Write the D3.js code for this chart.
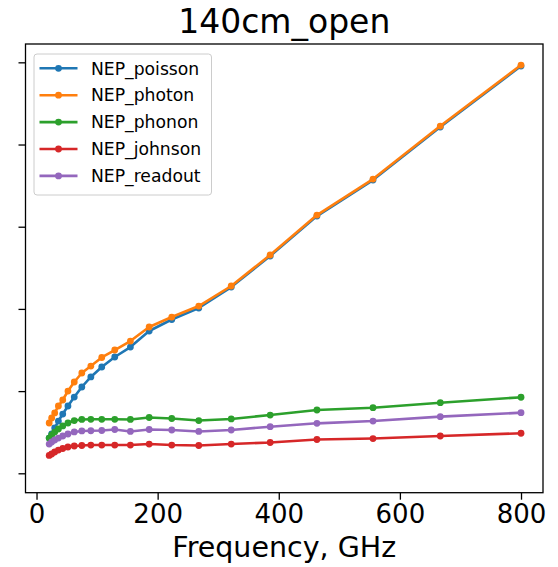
<!DOCTYPE html>
<html>
<head>
<meta charset="utf-8">
<script src="https://cdn.jsdelivr.net/npm/d3@7"></script>
<style>
  html, body { margin: 0; padding: 0; background: #fff; }
  svg { display: block; font-family: "DejaVu Sans", sans-serif; }
</style>
</head>
<body>
<svg id="chart" width="558" height="567"></svg>
<script>
// ---- data (frequency in GHz, NEP in arbitrary units; y tick labels not shown in the original) ----
const freqs = [20.9, 25.0, 30.0, 36.1, 43.3, 51.9, 62.3, 74.8, 89.7, 107.7, 129.2, 155.0, 186.0, 223.3, 267.9, 321.5, 385.8, 463.0, 555.6, 666.7, 800.0];
const nepPoisson = [0.429, 0.478, 0.551, 0.636, 0.721, 0.819, 0.928, 1.050, 1.172, 1.293, 1.415, 1.536, 1.731, 1.871, 2.011, 2.266, 2.644, 3.130, 3.568, 4.213, 4.955];
const nepPhoton  = [0.612, 0.673, 0.734, 0.819, 0.892, 1.001, 1.111, 1.220, 1.305, 1.409, 1.500, 1.609, 1.780, 1.901, 2.035, 2.279, 2.656, 3.142, 3.580, 4.225, 4.967];
const nepPhonon  = [0.429, 0.466, 0.502, 0.539, 0.576, 0.612, 0.642, 0.655, 0.657, 0.657, 0.657, 0.655, 0.679, 0.667, 0.642, 0.661, 0.709, 0.770, 0.798, 0.859, 0.925];
const nepJohnson = [0.217, 0.235, 0.259, 0.283, 0.302, 0.320, 0.332, 0.338, 0.344, 0.344, 0.344, 0.344, 0.356, 0.344, 0.338, 0.356, 0.375, 0.411, 0.423, 0.454, 0.487];
const nepReadout = [0.356, 0.381, 0.405, 0.429, 0.454, 0.478, 0.503, 0.515, 0.518, 0.521, 0.533, 0.509, 0.533, 0.527, 0.509, 0.527, 0.567, 0.608, 0.636, 0.689, 0.737];
const seriesNames = ["NEP_poisson", "NEP_photon", "NEP_phonon", "NEP_johnson", "NEP_readout"];
const xTicks = [0, 200, 400, 600, 800];
const yTicks = [0, 1, 2, 3, 4, 5];
const chartTitle = "140cm_open";
const xLabel = "Frequency, GHz";

const colors = ["#1f77b4", "#ff7f0e", "#2ca02c", "#d62728", "#9467bd"];
const seriesValues = [nepPoisson, nepPhoton, nepPhonon, nepJohnson, nepReadout];

// ---- layout ----
const pLeft = 25.5, pRight = 543, pTop = 44, pBottom = 492.7;
const svg = d3.select("#chart");

const x = d3.scaleLinear().domain([-18.2, 836.3]).range([pLeft, pRight]);
const y = d3.scaleLinear().domain([-0.236, 5.223]).range([pBottom, pTop]);

// title
svg.append("text")
  .attr("x", (pLeft + pRight) / 2).attr("y", 33)
  .attr("text-anchor", "middle")
  .attr("font-size", 33).attr("fill", "#000")
  .text(chartTitle);

// plot area clip
svg.append("defs").append("clipPath").attr("id", "clip")
  .append("rect").attr("x", pLeft).attr("y", pTop).attr("width", pRight - pLeft).attr("height", pBottom - pTop);

const plot = svg.append("g").attr("clip-path", "url(#clip)");

const line = d3.line().x(d => x(d[0])).y(d => y(d[1]));

seriesValues.forEach((vals, i) => {
  const pts = freqs.map((f, j) => [f, vals[j]]);
  const g = plot.append("g");
  g.append("path").datum(pts)
    .attr("d", line)
    .attr("fill", "none")
    .attr("stroke", colors[i])
    .attr("stroke-width", 2.6)
    .attr("stroke-linejoin", "round")
    .attr("stroke-linecap", "square");
  g.selectAll("circle").data(pts).enter().append("circle")
    .attr("cx", d => x(d[0])).attr("cy", d => y(d[1]))
    .attr("r", 3.4)
    .attr("fill", colors[i]);
});

// axes
const xAxis = d3.axisBottom(x).tickValues(xTicks).tickSize(7).tickPadding(5).tickFormat(d3.format("d"));
const gx = svg.append("g").attr("transform", `translate(0,${pBottom})`).call(xAxis);
gx.select(".domain").remove();
gx.selectAll(".tick line").attr("stroke", "#000").attr("stroke-width", 1.3);
gx.selectAll(".tick text").attr("font-size", 26).attr("fill", "#000")
  .attr("font-family", "DejaVu Sans, sans-serif");

const yAxis = d3.axisLeft(y).tickValues(yTicks).tickSize(7).tickFormat("");
const gy = svg.append("g").attr("transform", `translate(${pLeft},0)`).call(yAxis);
gy.select(".domain").remove();
gy.selectAll(".tick line").attr("stroke", "#000").attr("stroke-width", 1.3);

// frame
svg.append("rect")
  .attr("x", pLeft).attr("y", pTop).attr("width", pRight - pLeft).attr("height", pBottom - pTop)
  .attr("fill", "none").attr("stroke", "#000").attr("stroke-width", 1.3);

// x label
svg.append("text")
  .attr("x", (pLeft + pRight) / 2).attr("y", 557)
  .attr("text-anchor", "middle")
  .attr("font-size", 28.5).attr("fill", "#000")
  .text(xLabel);

// legend
const lg = svg.append("g");
lg.append("rect")
  .attr("x", 34).attr("y", 54).attr("width", 177.5).attr("height", 141)
  .attr("rx", 3).attr("ry", 3)
  .attr("fill", "#fff").attr("fill-opacity", 0.8)
  .attr("stroke", "#cccccc").attr("stroke-width", 1);
seriesNames.forEach((name, i) => {
  const yy = 68.3 + i * 26.9;
  lg.append("line").attr("x1", 39.5).attr("x2", 77.5).attr("y1", yy).attr("y2", yy)
    .attr("stroke", colors[i]).attr("stroke-width", 2.6);
  lg.append("circle").attr("cx", 58.5).attr("cy", yy).attr("r", 3.4).attr("fill", colors[i]);
  lg.append("text").attr("x", 91).attr("y", yy + 6.2)
    .attr("font-size", 17.2).attr("fill", "#000").text(name);
});
</script>
</body>
</html>
